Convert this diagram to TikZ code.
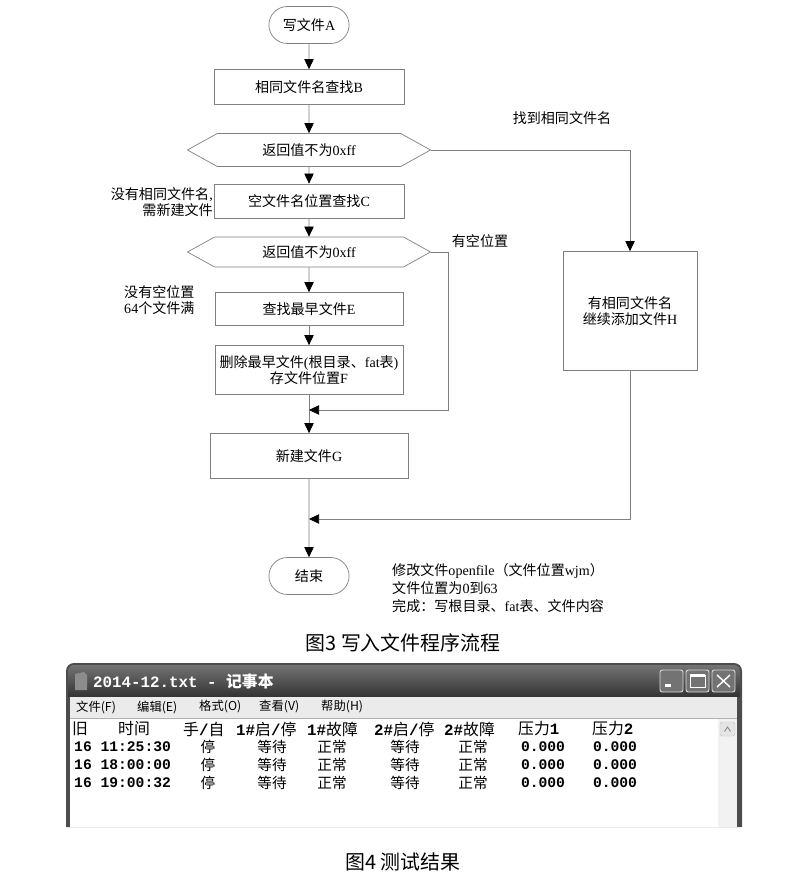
\documentclass[tikz,border=0pt]{standalone}
\usepackage{fontspec}
\setmainfont{Noto Sans CJK SC}
\setmonofont{Liberation Mono}
\newfontfamily\latfont{Liberation Serif}
\usetikzlibrary{arrows.meta,shapes.misc,shapes.symbols,positioning}

\definecolor{linienfarbe}{gray}{0.5}
\definecolor{titelhell}{gray}{0.45}
\definecolor{titeldunkel}{gray}{0.2}

\newcommand\lat[1]{{\latfont #1}}
\newcommand\mono[1]{{\ttfamily\bfseries #1}}
\newcommand\flusstext{\fontsize{12}{13.5}\selectfont}
\newcommand\fenstertext{\fontsize{13.5}{15}\selectfont}
\newcommand\zeilentext{\fontsize{12.5}{13}\selectfont}

\tikzset{
    kasten/.style={draw=linienfarbe, line width=0.6pt, rectangle, align=center, font=\flusstext, inner sep=1pt},
    raute/.style={draw=linienfarbe, line width=0.6pt, signal, signal to=west and east, signal pointer angle=58,
        minimum width=7.29cm, align=center, font=\flusstext, inner sep=1pt},
    terminal/.style={draw=linienfarbe, line width=0.6pt, rounded rectangle, minimum width=2.64cm, minimum height=1.11cm, font=\flusstext},
    pfeil/.style={draw=linienfarbe, line width=0.6pt, -{Triangle[length=3mm,width=2.8mm,color=black]}},
    notiz/.style={font=\flusstext, inner sep=0pt},
    titel/.style={font=\fontsize{17}{18}\selectfont, inner sep=0pt},
    knopf/.style={draw=white!85!black, line width=0.8pt, fill=black!55, rounded corners=2pt},
    menue/.style={font=\fontsize{10.5}{12}\selectfont, anchor=west, inner sep=0pt},
    spalte/.style={font=\fenstertext, inner sep=0pt},
    wert/.style={font=\zeilentext, inner sep=0pt},
}

\begin{document}
\begin{tikzpicture}[x=0.03cm, y=-0.03cm]

    \useasboundingbox (0,0) rectangle (800,881);

    % Ablauf
    \node [terminal] (start) at (309,25) {写文件\lat{A}};
    \node [kasten, minimum width=5.7cm, minimum height=1.05cm] (suche) at (309,87) {相同文件名查找\lat{B}};
    \node [raute, minimum height=0.99cm] (abfrage1) at (309,150) {返回值不为\lat{0xff}};
    \node [kasten, minimum width=5.7cm, minimum height=1.02cm] (leersuche) at (309,201) {空文件名位置查找\lat{C}};
    \node [raute, minimum height=0.9cm] (abfrage2) at (309,252) {返回值不为\lat{0xff}};
    \node [kasten, minimum width=5.64cm, minimum height=0.99cm] (aelteste) at (309,309) {查找最早文件\lat{E}};
    \node [kasten, minimum width=5.64cm, minimum height=1.47cm] (loeschen) at (309,370) {删除最早文件\lat{(}根目录、\lat{fat}表\lat{)}\\存文件位置\lat{F}};
    \node [kasten, minimum width=5.94cm, minimum height=1.35cm] (neudatei) at (309,456) {新建文件\lat{G}};
    \node [kasten, minimum width=4.02cm, minimum height=3.57cm] (anhaengen) at (630,311) {有相同文件名\\继续添加文件\lat{H}};
    \node [terminal] (ende) at (309,576) {结束};

    \coordinate (knoten1) at (309,410);
    \coordinate (knoten2) at (309,519);
    \coordinate (ecke1) at (448,410);

    \draw [pfeil] (start) -- (suche);
    \draw [pfeil] (suche) -- (abfrage1);
    \draw [pfeil] (abfrage1) -- (leersuche);
    \draw [pfeil] (leersuche) -- (abfrage2);
    \draw [pfeil] (abfrage2) -- (aelteste);
    \draw [pfeil] (aelteste) -- (loeschen);
    \draw [pfeil] (loeschen) -- (neudatei);
    \draw [pfeil] (neudatei) -- (ende);
    \draw [pfeil] (abfrage1.east) -| (anhaengen.north);
    \draw [pfeil] (abfrage2.east) -| (ecke1) -- (knoten1);
    \draw [pfeil] (anhaengen.south) |- (knoten2);

    % Beschriftungen
    \node [notiz] (gefunden) at (562,118) {找到相同文件名};
    \node [notiz, anchor=east, align=right] (keingleich) at (213,202) {没有相同文件名\lat{,}\\需新建文件};
    \node [notiz] (frei) at (480,241) {有空位置};
    \node [notiz, anchor=west, align=left] (voll) at (124,300) {没有空位置\\\lat{64}个文件满};
    \node [notiz, anchor=north west, align=left] (hinweis) at (392,563) {修改文件\lat{openfile}（文件位置\lat{wjm}）\\[2pt]
        文件位置为\lat{0}到\lat{63}\\[2pt]完成：写根目录、\lat{fat}表、文件内容};
    \node [titel] (bild3) at (403,643) {图3 写入文件程序流程};

    % Fenster
    \fill [black!70] (66,827) -- (66,671) arc (180:270:8) -- (734,663) arc (270:360:8) -- (742,827) -- cycle;
    \shade [top color=titelhell, bottom color=titeldunkel] (68,697) -- (68,671) arc (180:270:6) -- (734,665) arc (270:360:6) -- (740,697) -- cycle;
    \fill [black!8] (70,697) rectangle (737,718);
    \draw [black!30] (70,718) -- (737,718);
    \fill [white] (70,719) rectangle (737,827);
    \fill [black!5] (718,719) rectangle (737,827);
    \draw [black!25, rounded corners=1.5pt, fill=black!10] (720,722) rectangle (735,736);
    \draw [black!45, line width=0.8pt] (724.5,731.5) -- (727.5,727) -- (730.5,731.5);

    \fill [black!45] (75,674) -- (84,672) -- (87,675) -- (87,690) -- (75,690) -- cycle;
    \node [anchor=west, text=white, inner sep=0pt, font=\fontsize{13.5}{14}\selectfont] (fenstertitel) at (93,682)
        {\mono{2014-12.txt - }\textbf{记事本}};

    % Knoepfe
    \draw [knopf] (660,670) rectangle (683,692);
    \draw [knopf] (686,670) rectangle (709,692);
    \draw [knopf] (712,670) rectangle (735,692);
    \fill [white] (665,684) rectangle (671,687);
    \draw [white, line width=0.8pt] (690,675) rectangle (705,687);
    \draw [white, line width=2pt] (690,675.5) -- (705,675.5);
    \draw [white, line width=1.2pt] (717,675) -- (730,687) (730,675) -- (717,687);

    % Menue
    \node [menue] (m1) at (76,707) {文件(F)};
    \node [menue] (m2) at (137,707) {编辑(E)};
    \node [menue] (m3) at (199,707) {格式(O)};
    \node [menue] (m4) at (259,707) {查看(V)};
    \node [menue] (m5) at (321,707) {帮助(H)};

    % Kopfzeile
    \node [spalte, anchor=west] (k1) at (72,729) {旧};
    \node [spalte, anchor=west] (k2) at (118,729) {时间};
    \node [spalte, anchor=west] (k3) at (183,729) {手\mono{/}自};
    \node [spalte, anchor=west] (k4) at (236,729) {\mono{1\#}启\mono{/}停};
    \node [spalte, anchor=west] (k5) at (307,729) {\mono{1\#}故障};
    \node [spalte, anchor=west] (k6) at (374,729) {\mono{2\#}启\mono{/}停};
    \node [spalte, anchor=west] (k7) at (444,729) {\mono{2\#}故障};
    \node [spalte, anchor=west] (k8) at (518,729) {压力\mono{1}};
    \node [spalte, anchor=west] (k9) at (592,729) {压力\mono{2}};

    % Messwerte
    \foreach \zeile/\zeit in {747/11:25:30, 765/18:00:00, 783/19:00:32}
    {
        \node [wert, anchor=west] (tag-\zeile) at (74,\zeile) {\mono{16 \zeit}};
        \node [wert] (hand-\zeile) at (208,\zeile) {停};
        \node [wert] (st1-\zeile) at (272,\zeile) {等待};
        \node [wert] (fe1-\zeile) at (332,\zeile) {正常};
        \node [wert] (st2-\zeile) at (405,\zeile) {等待};
        \node [wert] (fe2-\zeile) at (473,\zeile) {正常};
        \node [wert] (dr1-\zeile) at (543,\zeile) {\mono{0.000}};
        \node [wert] (dr2-\zeile) at (615,\zeile) {\mono{0.000}};
    }

    \node [titel] (bild4) at (403,862) {图4 测试结果};

\end{tikzpicture}
\end{document}
